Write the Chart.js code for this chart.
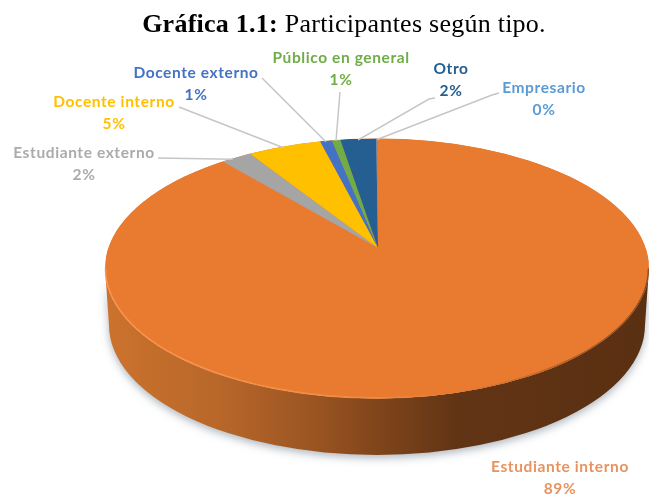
<!DOCTYPE html>
<html lang="es">
<head>
<meta charset="utf-8">
<script src="https://cdn.jsdelivr.net/npm/chart.js@4"></script>
<style>
html,body{margin:0;padding:0;background:#fff;overflow:hidden}
#wrap{position:relative;width:649px;height:497px}
#title{position:absolute;left:0;top:9px;width:688px;text-align:center;font:26px "Liberation Serif",serif;letter-spacing:.25px;color:#000;white-space:nowrap;filter:blur(.3px)}
canvas{position:absolute;left:0;top:0;filter:blur(.45px)}
</style>
</head>
<body>
<div id="wrap">
<canvas id="c" width="649" height="497"></canvas>
<div id="title"><b>Gráfica 1.1:</b> Participantes según tipo.</div>
</div>
<script>
const categories = ["Estudiante interno","Estudiante externo","Docente interno","Docente externo","Público en general","Otro","Empresario"];
const values = [89.4, 2.0, 4.5, 0.7, 0.5, 2.1, 0.1];
const sliceColors = ["#E97B30","#A5A5A5","#FFC000","#4472C4","#70AD47","#255E91","#5B9BD5"];
const labelColors = ["#E8935F","#ABABAB","#FFC000","#4472C4","#70AD47","#255E91","#5B9BD5"];

// page layout of the tilted pie
const TOP = {cx:377, cy:268.5, rx:272, ry:130};
const BOTTOM = {cx:377, cy:325, rx:268, ry:130};
const APEX = {x:378, y:248};
// label block: centre x, name baseline, percent baseline, leader start (null: no leader)
const labelLayout = [
  {x:560, y:472, y2:494, lead:null},
  {x:84, y:158, y2:180, lead:[158,158]},
  {x:114, y:107, y2:129, lead:[179,107]},
  {x:196, y:78, y2:100, lead:[262,78]},
  {x:341, y:63, y2:85, lead:[340,92]},
  {x:451, y:74, y2:96, lead:[435,98,429,99]},
  {x:544, y:93, y2:115, lead:[499,93,492,95]}
];

const pie3d = {
  id:'pie3d',
  beforeDatasetsDraw(chart){
    const ctx = chart.ctx, arcs = chart.getDatasetMeta(0).data, R = arcs[0].outerRadius;
    const ax = arcs[0].x, ay = arcs[0].y;
    // side wall
    ctx.save();
    ctx.beginPath();
    ctx.ellipse(TOP.cx,TOP.cy,TOP.rx,TOP.ry,0,Math.PI,0,true);
    ctx.lineTo(BOTTOM.cx+BOTTOM.rx,BOTTOM.cy);
    ctx.ellipse(BOTTOM.cx,BOTTOM.cy,BOTTOM.rx,BOTTOM.ry,0,0,Math.PI,false);
    ctx.closePath();
    const g = ctx.createLinearGradient(105,0,649,0);
    g.addColorStop(0,'#CC722D');
    g.addColorStop(0.2,'#B9682A');
    g.addColorStop(0.38,'#9C5522');
    g.addColorStop(0.5,'#80451B');
    g.addColorStop(0.65,'#613415');
    g.addColorStop(1,'#5A3012');
    ctx.shadowColor='rgba(95,110,125,0.5)'; ctx.shadowBlur=9; ctx.shadowOffsetY=3;
    ctx.fillStyle=g; ctx.fill();
    ctx.restore();
    // top face base
    ctx.save();
    ctx.beginPath();
    ctx.ellipse(TOP.cx,TOP.cy,TOP.rx,TOP.ry,0,0,Math.PI*2);
    ctx.fillStyle=sliceColors[0]; ctx.fill();
    ctx.clip();
    // wedges: the far half is foreshortened more than the near half
    [[0,0,649,APEX.y,APEX.y-TOP.cy+TOP.ry],[0,APEX.y,649,497-APEX.y,TOP.cy+TOP.ry-APEX.y+8]].forEach(p=>{
      ctx.save();
      ctx.beginPath(); ctx.rect(p[0],p[1],p[2],p[3]); ctx.clip();
      ctx.translate(APEX.x,APEX.y);
      ctx.scale(TOP.rx/R,p[4]/R);
      ctx.translate(-ax,-ay);
      arcs.forEach(a=>a.draw(ctx));
      ctx.restore();
    });
    ctx.restore();
    // rim highlight on near edge
    ctx.save();
    const rim = ctx.createLinearGradient(105,0,649,0);
    rim.addColorStop(0,'rgba(250,150,80,0.9)');
    rim.addColorStop(0.5,'rgba(250,150,80,0.55)');
    rim.addColorStop(0.62,'rgba(250,150,80,0)');
    rim.addColorStop(0.65,'rgba(70,35,10,0)');
    rim.addColorStop(1,'rgba(70,35,10,0.55)');
    ctx.beginPath();
    ctx.ellipse(TOP.cx,TOP.cy,TOP.rx-0.5,TOP.ry-0.5,0,Math.PI,0,true);
    ctx.strokeStyle=rim; ctx.lineWidth=1.6; ctx.stroke();
    ctx.restore();
    return false;
  },
  afterDraw(chart){
    const ctx = chart.ctx, arcs = chart.getDatasetMeta(0).data;
    ctx.save();
    ctx.textAlign='center'; ctx.textBaseline='alphabetic';
    ctx.font='bold 15.5px Lato, sans-serif';
    ctx.letterSpacing='0.6px';
    categories.forEach((name,i)=>{
      const L = labelLayout[i], arc = arcs[i];
      if(L.lead){
        const mid = (arc.startAngle+arc.endAngle)/2 + Math.PI/2;
        const ex = APEX.x + TOP.rx*Math.sin(mid);
        const dx = (ex-TOP.cx)/TOP.rx;
        const ey = TOP.cy - TOP.ry*Math.sqrt(Math.max(0,1-dx*dx));
        ctx.beginPath();
        ctx.moveTo(L.lead[0],L.lead[1]);
        for(let k=2;k<L.lead.length;k+=2) ctx.lineTo(L.lead[k],L.lead[k+1]);
        ctx.lineTo(ex,ey+1);
        ctx.strokeStyle='#C6C6C6'; ctx.lineWidth=1.5; ctx.stroke();
      }
      ctx.fillStyle=labelColors[i];
      ctx.fillText(name,L.x,L.y);
      ctx.fillText(Math.round(values[i])+'%',L.x,L.y2);
    });
    ctx.restore();
  }
};

new Chart(document.getElementById('c'),{
  type:'pie',
  data:{labels:categories,datasets:[{data:values,backgroundColor:sliceColors,borderWidth:0}]},
  options:{
    responsive:false,animation:false,
    plugins:{legend:{display:false},tooltip:{enabled:false},title:{display:false}}
  },
  plugins:[pie3d]
});
</script>
</body>
</html>
